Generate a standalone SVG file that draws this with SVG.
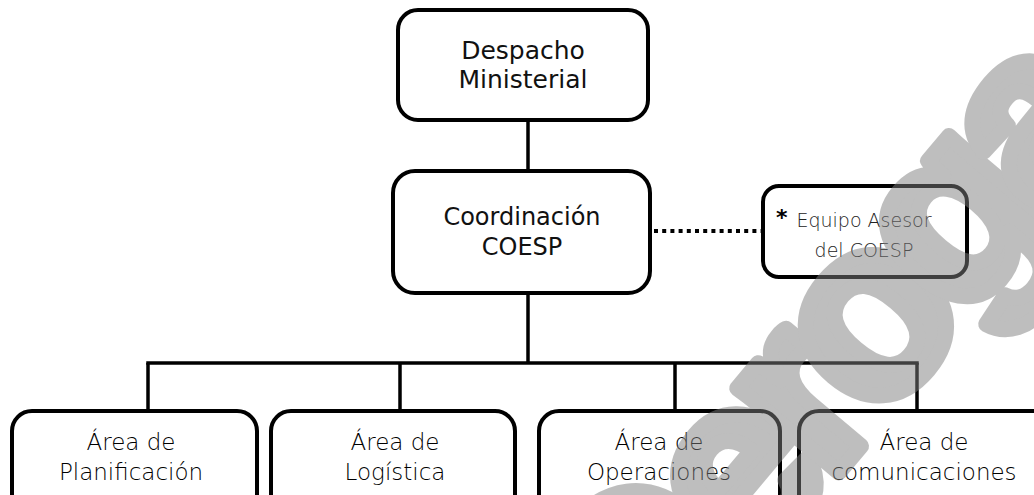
<svg xmlns="http://www.w3.org/2000/svg" width="1034" height="495" viewBox="0 0 1034 495">
  <style>
    .box { fill: none; stroke: #000; stroke-width: 4; }
    .line { fill: none; stroke: #000; stroke-width: 3.5; }
    .dot { fill: none; stroke: #000; stroke-width: 4; stroke-dasharray: 4 4.2; }
    .t { font-family: "DejaVu Sans", "Liberation Sans", sans-serif; text-anchor: middle; }
    .top { font-size: 25px; fill: #111; }
    .mid { font-size: 24px; fill: #111; }
    .adv { font-size: 19px; fill: #222; font-weight: 300; }
    .area { font-size: 23px; fill: #000; font-weight: 300; }
    .wm { font-family: "Liberation Sans", Arial, sans-serif; font-weight: bold; font-size: 250px; letter-spacing: -20px; fill: #7f7f7f; stroke: #7f7f7f; stroke-width: 16; stroke-linejoin: round; }
  </style>
  <rect width="1034" height="495" fill="#fff"/>
  <g id="connectors">
    <line class="line" x1="528" y1="120" x2="528" y2="171"/>
    <line class="line" x1="528" y1="293" x2="528" y2="363"/>
    <line class="line" x1="146.25" y1="363" x2="918.75" y2="363"/>
    <line class="line" x1="148" y1="363" x2="148" y2="411"/>
    <line class="line" x1="400" y1="363" x2="400" y2="411"/>
    <line class="line" x1="675" y1="363" x2="675" y2="411"/>
    <line class="line" x1="917" y1="363" x2="917" y2="411"/>
    <line class="dot" x1="654" y1="231" x2="762" y2="231"/>
  </g>
  <g id="despacho">
    <rect class="box" x="398" y="10" width="250" height="110" rx="20"/>
    <text class="t top" x="523" y="59">Despacho</text>
    <text class="t top" x="523" y="88">Ministerial</text>
  </g>
  <g id="coordinacion">
    <rect class="box" x="393" y="171" width="257" height="122" rx="22"/>
    <text class="t mid" x="522" y="225">Coordinación</text>
    <text class="t mid" x="522" y="255">COESP</text>
  </g>
  <g id="equipo">
    <rect class="box" x="763" y="186" width="204" height="91" rx="16"/>
    <text x="776" y="225" style="font-family: 'DejaVu Sans', sans-serif; font-weight: bold; font-size: 22px; fill: #000;">*</text>
    <text class="t adv" x="864" y="227">Equipo Asesor</text>
    <text class="t adv" x="864" y="257">del COESP</text>
  </g>
  <g id="planificacion">
    <rect class="box" x="12" y="411" width="245" height="110" rx="20"/>
    <text class="t area" x="131" y="450">Área de</text>
    <text class="t area" x="131" y="480">Planificación</text>
  </g>
  <g id="logistica">
    <rect class="box" x="271" y="411" width="244" height="110" rx="20"/>
    <text class="t area" x="395" y="450">Área de</text>
    <text class="t area" x="395" y="480">Logística</text>
  </g>
  <g id="operaciones">
    <rect class="box" x="539" y="411" width="241" height="110" rx="20"/>
    <text class="t area" x="659" y="450">Área de</text>
    <text class="t area" x="659" y="480">Operaciones</text>
  </g>
  <g id="comunicaciones">
    <rect class="box" x="799" y="411" width="255" height="110" rx="20"/>
    <text class="t area" x="924" y="450">Área de</text>
    <text class="t area" x="924" y="480">comunicaciones</text>
  </g>
  <g id="watermark" opacity="0.5">
    <text class="wm" transform="translate(648,700) rotate(-50)">Derogado</text>
  </g>
</svg>
